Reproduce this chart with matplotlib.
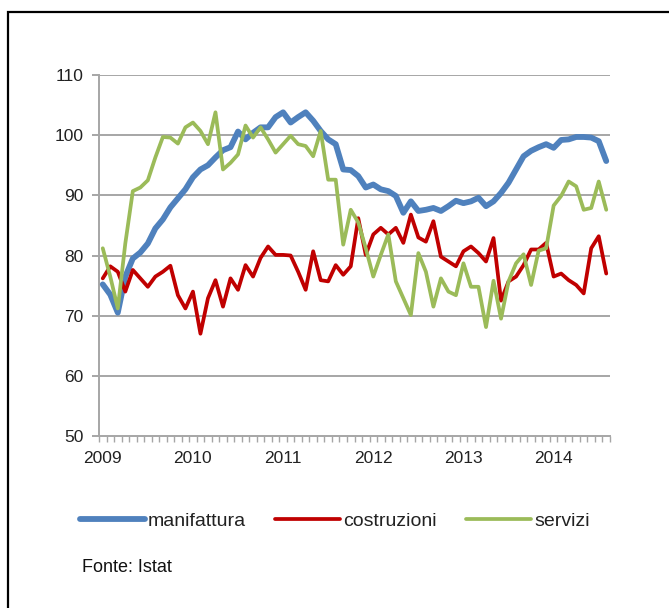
import matplotlib
matplotlib.use("Agg")
import matplotlib.pyplot as plt
from matplotlib.patches import Rectangle
from matplotlib import font_manager as fm

names = {f.name for f in fm.fontManager.ttflist}
fam = [n for n in ["Liberation Sans Narrow", "Liberation Sans", "DejaVu Sans"] if n in names]
plt.rcParams['font.family'] = fam

years = ["2009", "2010", "2011", "2012", "2013", "2014"]
# monthly, Jan 2009 .. Aug 2014
manifattura = [75.2, 73.5, 70.5, 76.5, 79.5, 80.5, 82.0, 84.5, 86.0, 88.0, 89.5, 91.0,
               93.0, 94.3, 95.0, 96.3, 97.5, 98.0, 100.6, 99.3, 100.4, 101.3, 101.3, 103.0,
               103.8, 102.1, 103.0, 103.8, 102.4, 100.7, 99.3, 98.5, 94.3, 94.2, 93.2, 91.3,
               91.8, 91.0, 90.7, 89.9, 87.1, 89.0, 87.4, 87.6, 87.9, 87.4, 88.2, 89.1,
               88.7, 89.0, 89.6, 88.2, 89.0, 90.4, 92.1, 94.3, 96.5, 97.4, 98.0, 98.5,
               97.9, 99.2, 99.3, 99.7, 99.7, 99.6, 99.0, 95.7]
costruzioni = [76.2, 78.2, 77.3, 74.0, 77.6, 76.2, 74.8, 76.5, 77.3, 78.3, 73.4, 71.2,
               74.0, 67.0, 72.9, 75.9, 71.5, 76.2, 74.3, 78.4, 76.5, 79.6, 81.5, 80.1,
               80.1, 80.0, 77.3, 74.3, 80.7, 75.9, 75.7, 78.4, 76.8, 78.2, 86.2, 80.1,
               83.5, 84.6, 83.5, 84.6, 82.1, 86.8, 83.0, 82.3, 85.7, 79.8, 79.0, 78.2,
               80.7, 81.5, 80.4, 79.0, 82.9, 72.5, 75.7, 76.5, 78.4, 81.0, 81.0, 82.1,
               76.5, 77.0, 75.9, 75.1, 73.7, 81.2, 83.2, 77.0]
servizi = [81.2, 76.5, 71.2, 82.0, 90.7, 91.3, 92.5, 96.3, 99.7, 99.6, 98.6, 101.3,
           102.1, 100.7, 98.5, 103.8, 94.3, 95.4, 96.8, 101.6, 99.6, 101.3, 99.3, 97.1,
           98.5, 99.9, 98.5, 98.2, 96.5, 100.7, 92.6, 92.6, 81.8, 87.6, 85.5, 81.2,
           76.5, 80.1, 83.5, 75.7, 72.9, 70.1, 80.4, 77.3, 71.5, 76.2, 74.0, 73.4,
           78.7, 74.8, 74.8, 68.1, 75.8, 69.5, 75.7, 78.7, 80.2, 75.1, 80.8, 81.2,
           88.3, 89.9, 92.3, 91.5, 87.6, 87.9, 92.3, 87.6]
yticks = [50, 60, 70, 80, 90, 100, 110]

W, H = 669, 608
fig = plt.figure(figsize=(W / 100, H / 100), dpi=100)
ax = fig.add_axes([99 / W, 1 - 436 / H, (610 - 99) / W, (436 - 75) / H])

x = list(range(len(manifattura)))
grid_c = "#A6A6A6"
for v in yticks[1:]:
    ax.axhline(v, color=grid_c, lw=1.4, zorder=1)

ax.plot(x, manifattura, color="#4F81BD", lw=4.2, label="manifattura", zorder=3,
        solid_capstyle="round", solid_joinstyle="round")
ax.plot(x, costruzioni, color="#C00000", lw=2.7, label="costruzioni", zorder=4,
        solid_capstyle="round", solid_joinstyle="round")
ax.plot(x, servizi, color="#9BBB59", lw=2.7, label="servizi", zorder=5,
        solid_capstyle="round", solid_joinstyle="round")

ax.set_xlim(-0.5, len(x) - 0.5)
ax.set_ylim(50, 110)
ax.set_yticks(yticks)
ax.set_yticklabels([str(v) for v in yticks], fontsize=12.5, color="#222222")
ax.set_xticks([12 * k for k in range(len(years))])
ax.set_xticklabels(years, fontsize=12.5, color="#222222")
ax.set_xticks([i - 0.5 for i in range(len(x) + 1)], minor=True)
ax.tick_params(axis="x", which="major", length=0, pad=11)
ax.tick_params(axis="x", which="minor", length=4, color=grid_c, width=1, direction="out")
ax.tick_params(axis="y", length=5, color=grid_c, width=1.4, direction="out", pad=6)

for s in ["top", "right"]:
    ax.spines[s].set_visible(False)
for s in ["left", "bottom"]:
    ax.spines[s].set_color(grid_c)
    ax.spines[s].set_linewidth(1.4)

leg = fig.legend(loc="center left", bbox_to_anchor=(80 / W, 1 - 521 / H), ncol=3,
                 frameon=False, fontsize=14, handlelength=3.35, handletextpad=0.15,
                 columnspacing=1.5, borderaxespad=0, borderpad=0)
for t in leg.get_texts():
    t.set_color("#222222")
for h in leg.legend_handles:
    h.set_solid_capstyle("round")

fig.text(82 / W, 1 - 567 / H, "Fonte: Istat", fontsize=13, color="#111111",
         va="center", ha="left")

fig.patches.append(Rectangle((7.5 / W, -0.1), 1.2, 0.1 + (1 - 11.5 / H),
                             transform=fig.transFigure, fill=False, edgecolor="black",
                             lw=1.6, zorder=10))

fig.savefig("out.png", dpi=100)
